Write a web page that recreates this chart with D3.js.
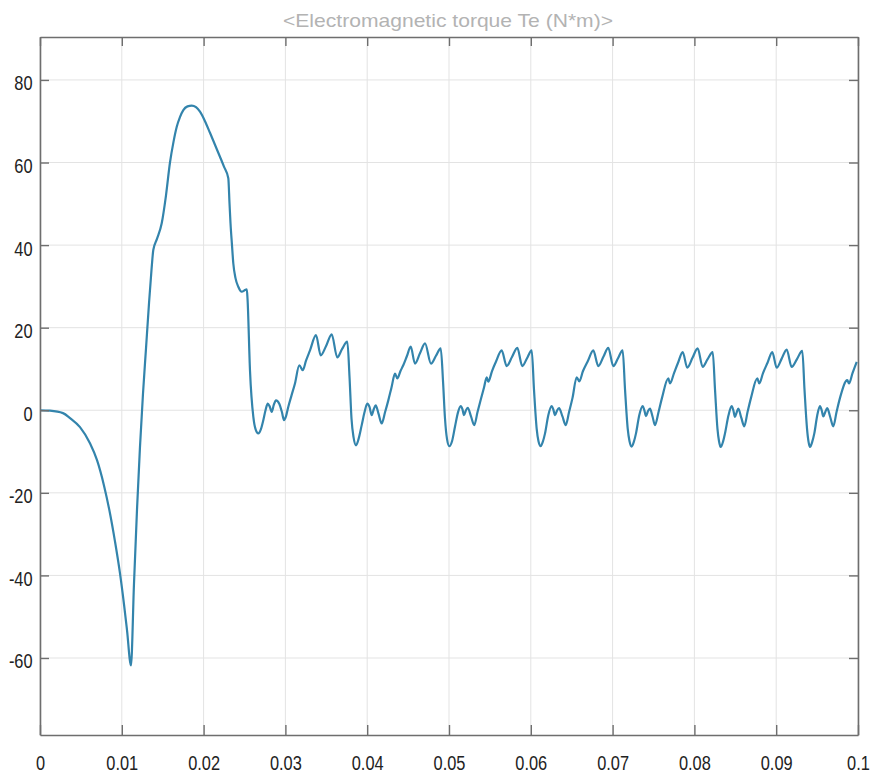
<!DOCTYPE html>
<html>
<head>
<meta charset="utf-8">
<script src="https://cdn.jsdelivr.net/npm/d3@7"></script>
<style>
  body { margin: 0; background: #fff; }
  text { font-family: "Liberation Sans", Arial, sans-serif; }
</style>
</head>
<body>
<svg id="chart" width="874" height="775"></svg>
<script>
// Simulation time (s)
const timeS = [
  0, 0.00122, 0.00281, 0.00367, 0.00489, 0.00611, 0.00697, 0.00782, 0.00856, 0.00917,
  0.00978, 0.01027, 0.01064, 0.01112, 0.01149, 0.01186, 0.01222, 0.01259, 0.01296, 0.01333,
  0.01363, 0.01385, 0.01430, 0.01488, 0.01540, 0.01589, 0.01632, 0.01671, 0.01711, 0.01752,
  0.01803, 0.01855, 0.01907, 0.01956, 0.02017, 0.02078, 0.02139, 0.02200, 0.02249, 0.02302,
  0.02317, 0.02329, 0.02347, 0.02363, 0.02390, 0.02424, 0.02466, 0.02506, 0.02528, 0.02537,
  0.02567, 0.02608, 0.02634, 0.02669, 0.02702, 0.02730, 0.02757, 0.02784, 0.02806, 0.02833,
  0.02858, 0.02885, 0.02925, 0.02958, 0.02983, 0.03007, 0.03035, 0.03075, 0.03117, 0.03170,
  0.03212, 0.03252, 0.03301, 0.03374, 0.03432, 0.03496, 0.03566, 0.03634, 0.03692, 0.03757,
  0.03784, 0.03808, 0.03833, 0.03863, 0.03894, 0.03933, 0.03967, 0.04001, 0.04028, 0.04055,
  0.04081, 0.04104, 0.04138, 0.04177, 0.04218, 0.04258, 0.04297, 0.04340, 0.04368, 0.04407,
  0.04441, 0.04487, 0.04532, 0.04584, 0.04645, 0.04707, 0.04780, 0.04841, 0.04899, 0.04927,
  0.04951, 0.04976, 0.05004, 0.05037, 0.05073, 0.05110, 0.05143, 0.05165, 0.05183, 0.05205,
  0.05229, 0.05269, 0.05309, 0.05348, 0.05391, 0.05428, 0.05461, 0.05480, 0.05526, 0.05575,
  0.05644, 0.05705, 0.05770, 0.05835, 0.05896, 0.05954, 0.06011, 0.06039, 0.06072, 0.06094,
  0.06121, 0.06149, 0.06174, 0.06214, 0.06255, 0.06275, 0.06296, 0.06320, 0.06345, 0.06387,
  0.06427, 0.06467, 0.06510, 0.06561, 0.06593, 0.06638, 0.06699, 0.06764, 0.06825, 0.06889,
  0.06947, 0.07009, 0.07066, 0.07123, 0.07152, 0.07185, 0.07207, 0.07233, 0.07262, 0.07286,
  0.07326, 0.07368, 0.07387, 0.07408, 0.07433, 0.07457, 0.07488, 0.07518, 0.07561, 0.07604,
  0.07681, 0.07702, 0.07751, 0.07800, 0.07857, 0.07913, 0.07977, 0.08040, 0.08101, 0.08160,
  0.08224, 0.08252, 0.08282, 0.08301, 0.08321, 0.08350, 0.08374, 0.08417, 0.08456, 0.08476,
  0.08496, 0.08517, 0.08537, 0.08573, 0.08610, 0.08649, 0.08692, 0.08769, 0.08793, 0.08839,
  0.08894, 0.08952, 0.09006, 0.09067, 0.09128, 0.09189, 0.09254, 0.09319, 0.09346, 0.09377,
  0.09395, 0.09413, 0.09441, 0.09466, 0.09502, 0.09535, 0.09556, 0.09576, 0.09600, 0.09624,
  0.09661, 0.09698, 0.09737, 0.09780, 0.09869, 0.09890, 0.09933, 0.09984
];

// Electromagnetic torque Te (N*m)
const torque = [
  0, -0.1, -0.7, -1.9, -4.1, -8.0, -12.1, -18.2, -25.0, -31.8,
  -39.5, -47.0, -53.3, -61.8, -42.0, -24.0, -9.0, 4.0, 15.0, 26.0,
  34.0, 38.8, 41.5, 45.3, 52.0, 60.0, 65.0, 68.6, 71.0, 72.7,
  73.6, 73.8, 73.4, 72.3, 70.0, 67.2, 64.3, 61.4, 59.0, 56.2,
  50.0, 45.3, 40.0, 35.6, 32.0, 29.9, 28.7, 29.1, 29.3, 27.0,
  9.7, -1.6, -4.5, -5.6, -4.5, -2.4, 0.0, 1.6, 1.0, -0.4,
  1.3, 2.4, 1.6, -0.5, -2.4, -1.5, 0.8, 3.6, 6.5, 10.9,
  9.7, 12.0, 14.5, 18.2, 13.3, 15.5, 18.4, 12.8, 14.8, 16.6,
  8.0, -2.0, -6.5, -8.5, -7.0, -3.6, -0.5, 1.6, 0.8, -1.2,
  0.3, 1.2, -0.8, -3.2, -0.5, 2.4, 5.5, 8.9, 7.7, 9.5,
  10.9, 13.2, 15.4, 11.3, 13.8, 16.2, 11.3, 13.2, 15.0, 7.0,
  -2.0, -7.0, -8.7, -7.5, -4.0, -0.5, 1.0, 0.2, -1.2, -0.1,
  0.6, -1.5, -3.6, -0.5, 2.8, 5.5, 8.0, 6.9, 9.5, 11.8,
  14.5, 10.7, 12.9, 15.1, 10.7, 12.6, 14.5, 5.0, -4.5, -7.5,
  -8.7, -7.5, -5.6, -1.2, 1.0, 0.2, -1.2, -0.1, 0.5, -1.5,
  -3.6, -0.5, 3.0, 8.0, 7.0, 9.5, 12.0, 14.5, 10.7, 13.0,
  15.1, 10.7, 12.6, 14.5, 5.0, -4.5, -7.5, -8.8, -7.5, -5.6,
  -1.2, 1.0, 0.1, -1.4, -0.2, 0.4, -1.5, -3.6, -0.5, 3.0,
  7.7, 6.5, 9.0, 11.5, 14.1, 10.3, 12.7, 15.0, 10.5, 12.3,
  14.1, 5.0, -4.5, -7.5, -8.9, -7.6, -5.6, -1.2, 1.0, 0.0,
  -1.6, -0.5, 0.4, -1.8, -3.9, -0.5, 3.0, 7.7, 6.5, 9.0,
  11.5, 14.1, 10.3, 12.5, 14.7, 10.5, 12.4, 14.4, 5.0, -4.5,
  -7.6, -8.9, -7.6, -5.6, -1.2, 1.0, 0.0, -1.5, -0.4, 0.5,
  -1.7, -3.9, -0.5, 3.0, 7.3, 6.5, 9.0, 11.7
];

const xTicks = [0, 0.01, 0.02, 0.03, 0.04, 0.05, 0.06, 0.07, 0.08, 0.09, 0.1];
const xTickLabels = ["0", "0.01", "0.02", "0.03", "0.04", "0.05", "0.06", "0.07", "0.08", "0.09", "0.1"];
const yTicks = [-60, -40, -20, 0, 20, 40, 60, 80];
const yTickLabels = ["-60", "-40", "-20", "0", "20", "40", "60", "80"];
const chartTitle = "<Electromagnetic torque Te (N*m)>";

// Plot frame
const plotL = 40, plotR = 858, plotT = 37, plotB = 735;
const svg = d3.select("#chart");

const x = d3.scaleLinear().domain([0, 0.1]).range([plotL, plotR]);
const y = d3.scaleLinear().domain([-78.65, 90.4]).range([plotB, plotT]);

// Grid
const grid = svg.append("g").attr("stroke", "#e3e3e3").attr("stroke-width", 1);
grid.selectAll("line.gx").data(xTicks).join("line").attr("class", "gx")
  .attr("x1", d => x(d)).attr("x2", d => x(d))
  .attr("y1", plotT).attr("y2", plotB);
grid.selectAll("line.gy").data(yTicks).join("line").attr("class", "gy")
  .attr("x1", plotL).attr("x2", plotR)
  .attr("y1", d => y(d)).attr("y2", d => y(d));

// Torque trace
const series = timeS.map((t, i) => [t, torque[i]]);
svg.append("path")
  .datum(series)
  .attr("fill", "none")
  .attr("stroke", "#3384ac")
  .attr("stroke-width", 2.2)
  .attr("stroke-linejoin", "round")
  .attr("d", d3.line().x(d => x(d[0])).y(d => y(d[1])).curve(d3.curveMonotoneX));

// Axes with inward ticks on all four sides
const axisColor = "#6e6e6e";
function styleAxis(g) {
  g.select(".domain").attr("stroke", axisColor).attr("stroke-width", 1.6);
  g.selectAll(".tick line").attr("stroke", axisColor).attr("stroke-width", 1.4);
}
const gx = svg.append("g").attr("transform", `translate(0,${plotB})`)
  .call(d3.axisBottom(x).tickValues(xTicks).tickFormat((d, i) => xTickLabels[i])
    .tickSizeInner(-10).tickSizeOuter(0));
styleAxis(gx);
gx.selectAll(".tick text")
  .attr("y", 35).attr("dy", 0)
  .attr("transform", "scale(0.78,1)")
  .attr("font-size", 21).attr("fill", "#222");

const gy = svg.append("g").attr("transform", `translate(${plotL},0)`)
  .call(d3.axisLeft(y).tickValues(yTicks).tickFormat((d, i) => yTickLabels[i])
    .tickSizeInner(-9).tickSizeOuter(0));
styleAxis(gy);
gy.selectAll(".tick text")
  .attr("x", -9.5).attr("y", 10).attr("dy", 0)
  .attr("transform", "scale(0.78,1)")
  .attr("font-size", 21).attr("fill", "#222");

const gt = svg.append("g").attr("transform", `translate(0,${plotT})`)
  .call(d3.axisTop(x).tickValues(xTicks).tickFormat("").tickSizeInner(-9).tickSizeOuter(0));
styleAxis(gt);
const gr = svg.append("g").attr("transform", `translate(${plotR},0)`)
  .call(d3.axisRight(y).tickValues(yTicks).tickFormat("").tickSizeInner(-9).tickSizeOuter(0));
styleAxis(gr);

// Title
svg.append("text")
  .attr("x", 448).attr("y", 27)
  .attr("text-anchor", "middle")
  .attr("font-size", 19)
  .attr("fill", "#b3b3b3")
  .attr("textLength", 330)
  .attr("lengthAdjust", "spacingAndGlyphs")
  .text(chartTitle);
</script>
</body>
</html>
